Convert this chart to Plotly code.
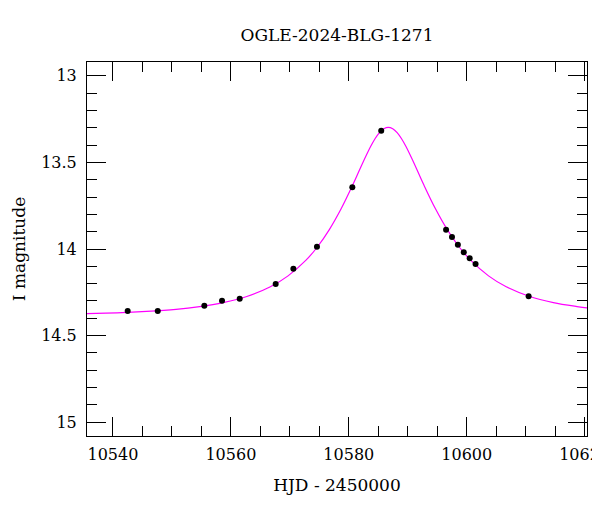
import plotly.graph_objects as go

# Observed photometry (HJD - 2450000, I magnitude)
obs_t = [10542.5, 10547.6, 10555.5, 10558.5, 10561.5, 10567.6, 10570.6, 10574.6,
         10580.6, 10585.5, 10596.5, 10597.5, 10598.5, 10599.5, 10600.5, 10601.5, 10610.5]
obs_mag = [14.358, 14.358, 14.327, 14.298, 14.287, 14.202, 14.114, 13.987,
           13.644, 13.317, 13.889, 13.931, 13.975, 14.019, 14.054, 14.087, 14.273]

# Model light curve
model_t = [10535.0, 10535.6, 10540.7, 10545.7, 10550.7, 10554.7, 10558.7, 10562.7, 10566.7,
           10569.7, 10572.7, 10574.7, 10576.7, 10578.7, 10580.7, 10582.2, 10583.7,
           10584.45, 10585.2, 10585.95, 10586.7, 10587.45, 10588.2, 10588.95, 10589.7,
           10591.2, 10592.7, 10594.7, 10596.7, 10598.7, 10600.7, 10603.7, 10606.7,
           10610.7, 10614.7, 10618.7, 10620.4, 10621.0]
model_mag = [14.374, 14.373, 14.368, 14.360, 14.348, 14.332, 14.309, 14.274, 14.218,
             14.155, 14.066, 13.987, 13.888, 13.768, 13.628, 13.515, 13.409,
             13.364, 13.329, 13.306, 13.298, 13.306, 13.329, 13.364, 13.409,
             13.515, 13.628, 13.768, 13.888, 13.987, 14.066, 14.155, 14.218,
             14.274, 14.309, 14.332, 14.340, 14.342]

title_text = "OGLE-2024-BLG-1271"
x_title = "HJD - 2450000"
y_title = "I magnitude"

FONT = "DejaVu Serif"
W, H = 592, 504  # page body has an 8px margin

fig = go.Figure()
fig.add_trace(go.Scatter(x=model_t, y=model_mag, mode="lines",
                         line=dict(color="#ff00ff", width=1.2, shape="spline"),
                         hoverinfo="skip", showlegend=False))
fig.add_trace(go.Scatter(x=obs_t, y=obs_mag, mode="markers",
                         marker=dict(color="black", size=6),
                         showlegend=False))

axis_common = dict(
    showline=True, linecolor="black", linewidth=1, mirror="allticks",
    ticks="inside", ticklen=19, tickwidth=1, tickcolor="black",
    showgrid=False, zeroline=False, automargin=False,
    ticklabeloverflow="allow",
    tickfont=dict(family=FONT, size=16, color="black"),
)

fig.update_layout(
    width=W, height=H,
    margin=dict(l=79, r=13, t=54, b=76, autoexpand=False),
    paper_bgcolor="white", plot_bgcolor="white",
    title=dict(text=title_text, x=0.5, xref="paper", y=1 - 27 / H, yref="container",
               xanchor="center", yanchor="middle",
               font=dict(family=FONT, size=17, color="black")),
    xaxis=dict(range=[10535.6, 10620.4], dtick=20, tick0=10540, tickformat="d",
               minor=dict(dtick=5, ticks="inside", ticklen=10, tickcolor="black", tickwidth=1),
               title=dict(text=x_title, font=dict(family=FONT, size=17, color="black"), standoff=15),
               ticklabelstandoff=4,
               **axis_common),
    yaxis=dict(range=[15.079, 12.921], dtick=0.5, tick0=13,
               minor=dict(dtick=0.1, ticks="inside", ticklen=10, tickcolor="black", tickwidth=1),
               title=dict(text=y_title, font=dict(family=FONT, size=17, color="black"), standoff=11),
               ticklabelstandoff=6,
               **axis_common),
)

fig.write_html("out.html")
